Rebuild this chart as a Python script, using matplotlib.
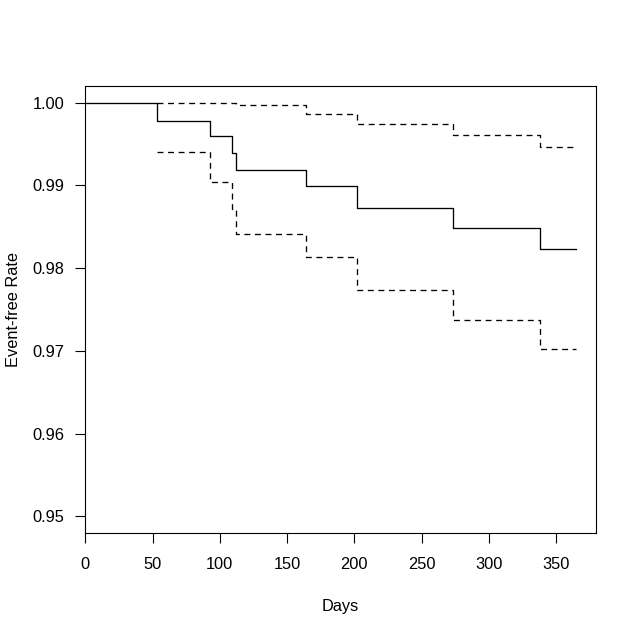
import numpy as np
import matplotlib
matplotlib.use("Agg")
import matplotlib.pyplot as plt

plt.rcParams['font.family'] = ['Liberation Sans', 'DejaVu Sans']

# Kaplan-Meier estimate with confidence band
days = [0, 53.4, 93.0, 109.3, 112.3, 164.2, 201.6, 273.5, 338.3]
end_day = 365
surv = [1.0, 0.9978, 0.9959, 0.9939, 0.9919, 0.9899, 0.9873, 0.9848, 0.9823]
lower = [1.0, 0.9940, 0.9904, 0.9872, 0.9841, 0.9813, 0.9774, 0.9737, 0.9702]
upper = [1.0, 1.0, 1.0, 1.0, 0.9997, 0.9986, 0.9974, 0.9961, 0.9946]

x_ticks = [0, 50, 100, 150, 200, 250, 300, 350]
y_ticks = [0.95, 0.96, 0.97, 0.98, 0.99, 1.00]

fig = plt.figure(figsize=(6.4, 6.39), dpi=100)
ax = fig.add_axes([85.3 / 640, 1 - 533 / 639, (596 - 85.3) / 640, (533 - 86) / 639])

t = days + [end_day]
def steps(v):
    return v + [v[-1]]

dash = (4.5, 3.5)
ax.step(t[1:], steps(lower)[1:], where='post', color='black', lw=0.95, dashes=dash)
ax.step(t[1:], steps(upper)[1:], where='post', color='black', lw=0.95, dashes=dash)
ax.step(t, steps(surv), where='post', color='black', lw=0.95)

# R style: 4% extra room on the right
ax.set_xlim(0, end_day * 1.04)
ax.set_ylim(0.948, 1.002)
ax.set_xticks(x_ticks)
ax.set_yticks(y_ticks)
ax.set_yticklabels(['%.2f' % v for v in y_ticks])

fs = 11.8
ax.tick_params(direction='out', length=7.2, width=0.8, labelsize=fs, pad=8, colors='black')
ax.tick_params(axis='x', pad=10)
for s in ax.spines.values():
    s.set_linewidth(0.8)
    s.set_color('black')

ax.set_xlabel('Days', fontsize=fs)
ax.xaxis.set_label_coords(0.5, (533 - 607) / 447)
ax.xaxis.label.set_va('center')
ax.set_ylabel('Event-free Rate', fontsize=fs)
ax.yaxis.set_label_coords((13 - 85.3) / 511, 0.5)
ax.yaxis.label.set_va('center')

fig.savefig('out.png', dpi=100)
